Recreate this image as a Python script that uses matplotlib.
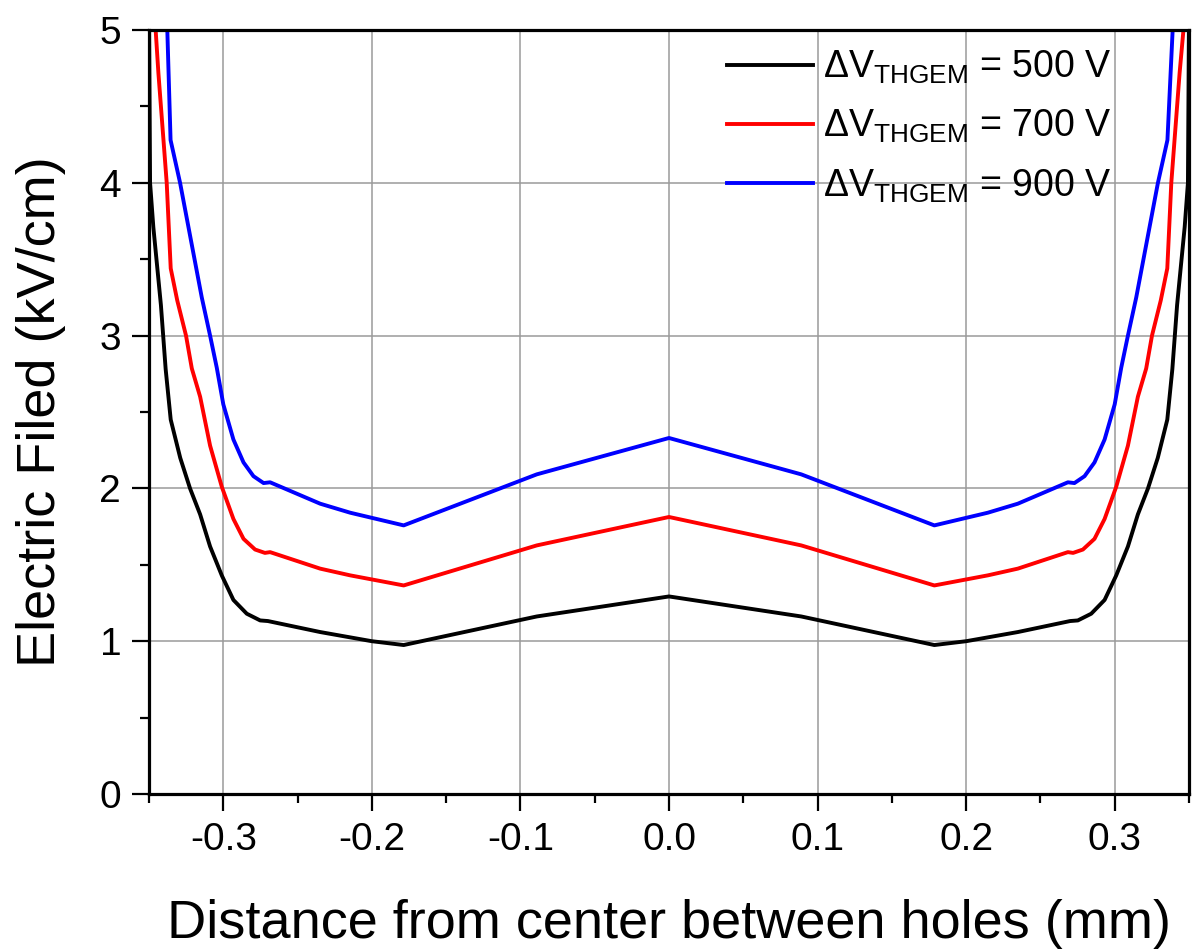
import matplotlib
matplotlib.use('Agg')
import matplotlib.pyplot as plt
from matplotlib.ticker import MultipleLocator

# text in an Arial-like face
plt.rcParams['font.family'] = ['Liberation Sans', 'DejaVu Sans']
plt.rcParams['mathtext.fontset'] = 'custom'
plt.rcParams['mathtext.rm'] = 'Liberation Sans'
plt.rcParams['mathtext.it'] = 'Liberation Sans:italic'

# data (distance in mm, field in kV/cm)
x_500 = [-0.3500, -0.3493, -0.3471, -0.3420, -0.3388, -0.3354, -0.3290, -0.3224,
         -0.3156, -0.3089, -0.3010, -0.2932, -0.2842, -0.2752, -0.2700, -0.2348,
         -0.2000, -0.1786, -0.0890, 0.0000, 0.0890, 0.1786, 0.2000, 0.2348,
         0.2700, 0.2752, 0.2842, 0.2932, 0.3010, 0.3089, 0.3156, 0.3224,
         0.3290, 0.3354, 0.3388, 0.3420, 0.3471, 0.3493, 0.3500]
e_500 = [5.10, 4.00, 3.71, 3.20, 2.78, 2.45, 2.20, 2.00,
         1.83, 1.62, 1.43, 1.27, 1.18, 1.136, 1.132, 1.06,
         1.00, 0.975, 1.162, 1.293, 1.162, 0.975, 1.00, 1.06,
         1.132, 1.136, 1.18, 1.27, 1.43, 1.62, 1.83, 2.00,
         2.20, 2.45, 2.78, 3.20, 3.71, 4.00, 5.10]

x_700 = [-0.3462, -0.3437, -0.3381, -0.3354, -0.3310, -0.3251, -0.3212, -0.3156,
         -0.3089, -0.3010, -0.2932, -0.2864, -0.2786, -0.2720, -0.2685, -0.2348,
         -0.2146, -0.1786, -0.0890, 0.0000, 0.0890, 0.1786, 0.2146, 0.2348,
         0.2685, 0.2720, 0.2786, 0.2864, 0.2932, 0.3010, 0.3089, 0.3156,
         0.3212, 0.3251, 0.3310, 0.3354, 0.3381, 0.3437, 0.3472]
e_700 = [5.10, 4.72, 4.00, 3.44, 3.23, 3.00, 2.785, 2.60,
         2.28, 2.01, 1.80, 1.67, 1.60, 1.578, 1.583, 1.475,
         1.431, 1.365, 1.627, 1.813, 1.627, 1.365, 1.431, 1.475,
         1.583, 1.578, 1.60, 1.67, 1.80, 2.01, 2.28, 2.60,
         2.785, 3.00, 3.23, 3.44, 4.00, 4.72, 5.10]

x_900 = [-0.3380, -0.3355, -0.3291, -0.3145, -0.3089, -0.3044, -0.3000, -0.2932,
         -0.2864, -0.2797, -0.2729, -0.2685, -0.2348, -0.2146, -0.1786, -0.0890,
         0.0000, 0.0890, 0.1786, 0.2146, 0.2348, 0.2685, 0.2729, 0.2797,
         0.2864, 0.2932, 0.3000, 0.3044, 0.3089, 0.3145, 0.3291, 0.3355, 0.3395]
e_900 = [5.10, 4.28, 4.00, 3.25, 3.00, 2.79, 2.55, 2.32,
         2.17, 2.08, 2.035, 2.04, 1.90, 1.841, 1.758, 2.092,
         2.33, 2.092, 1.758, 1.841, 1.90, 2.04, 2.035, 2.08,
         2.17, 2.32, 2.55, 2.79, 3.00, 3.25, 4.00, 4.28, 5.10]

voltages = [500, 700, 900]
colors = ['black', 'red', 'blue']

fig = plt.figure(figsize=(11.97, 9.5), dpi=100)
ax = fig.add_axes([0.1245, 0.1642, 0.8688, 0.8042])

series = [(x_500, e_500), (x_700, e_700), (x_900, e_900)]
for (xs, ys), v, c in zip(series, voltages, colors):
    ax.plot(xs, ys, color=c, lw=2.8, solid_joinstyle='round',
            label='\u0394V$_{\\mathrm{THGEM}}$ = %d V' % v)

ax.set_xlim(-0.35, 0.35)
ax.set_ylim(0, 5)
ax.xaxis.set_major_locator(MultipleLocator(0.1))
ax.xaxis.set_minor_locator(MultipleLocator(0.05))
ax.yaxis.set_major_locator(MultipleLocator(1))
ax.yaxis.set_minor_locator(MultipleLocator(0.5))
ax.set_xticks([-0.3, -0.2, -0.1, 0.0, 0.1, 0.2, 0.3])
ax.set_xticklabels(['-0.3', '-0.2', '-0.1', '0.0', '0.1', '0.2', '0.3'])

# grey grid on the major ticks
ax.grid(True, which='major', color='#9a9a9a', lw=1.1)
ax.set_axisbelow(True)

for sp in ax.spines.values():
    sp.set_linewidth(2.3)

ax.tick_params(which='major', direction='out', length=12, width=1.6,
               labelsize=28, pad=8)
ax.tick_params(which='minor', direction='out', length=6.5, width=1.6)

ax.set_xlabel('Distance from center between holes (mm)', fontsize=39, labelpad=30)
ax.set_ylabel('Electric Filed (kV/cm)', fontsize=39, labelpad=24)

ax.legend(loc='upper left', bbox_to_anchor=(0.556, 0.975), frameon=False,
          fontsize=27, handlelength=2.3, handletextpad=0.25, labelspacing=0.58,
          borderpad=0, borderaxespad=0)

fig.savefig('out.png', dpi=100)
